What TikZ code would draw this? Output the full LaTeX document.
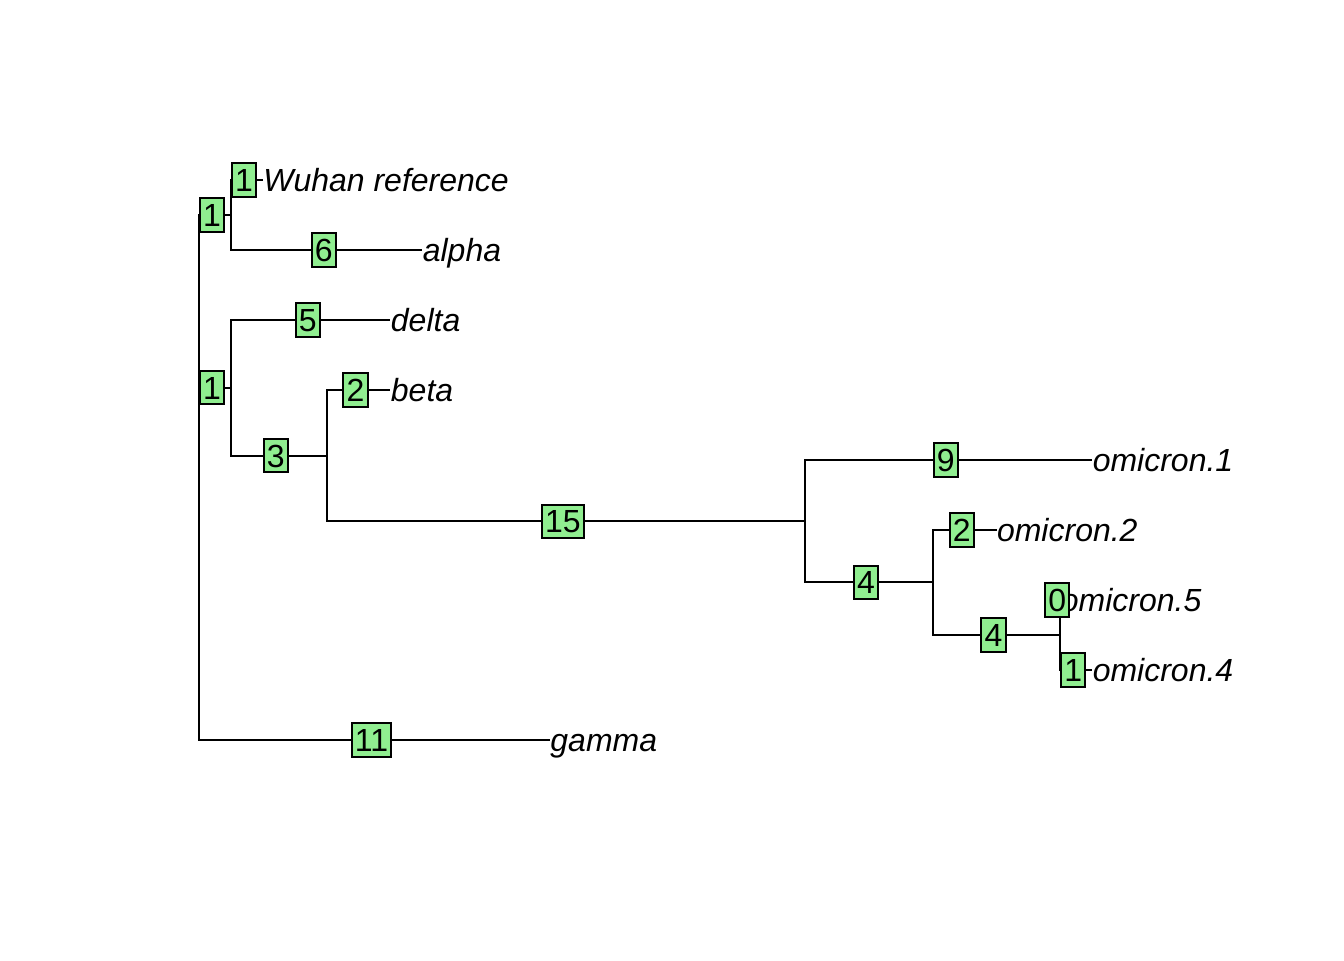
\documentclass[tikz,border=0pt]{standalone}
\usepackage{fontspec}
\setmainfont{Liberation Sans}
\definecolor{lightgreen}{HTML}{90EE90}
\tikzset{
	branch/.style={line width=0.75pt},
	lenbox/.style={draw,fill=lightgreen,line width=0.75pt,inner xsep=1.2pt,inner ysep=0pt,xshift=-1.1pt,
		minimum height=12.4pt,text height=8.6pt,text depth=0pt,font=\fontsize{12}{14}\selectfont},
	tiplabel/.style={anchor=west,inner sep=0pt,text height=8.6pt,text depth=0pt,
		font=\fontsize{12}{14}\selectfont\itshape}
}
\begin{document}
\begin{tikzpicture}[x=11.9625pt,y=-26.25pt]
	\useasboundingbox (-6.238,-1.571) rectangle (35.893,12.143);
	% internal nodes: x = distance from root, y = tip rank
	\coordinate (root) at (0,5.25);
	\coordinate (wa) at (1,1.5);
	\coordinate (dbo) at (1,3.96875);
	\coordinate (bo) at (4,4.9375);
	\coordinate (omi) at (19,5.875);
	\coordinate (omi245) at (23,6.75);
	\coordinate (omi45) at (27,7.5);
	% tips
	\coordinate (wuhan) at (2,1);
	\coordinate (alpha) at (7,2);
	\coordinate (delta) at (6,3);
	\coordinate (beta) at (6,4);
	\coordinate (omi1) at (28,5);
	\coordinate (omi2) at (25,6);
	\coordinate (omi5) at (27,7);
	\coordinate (omi4) at (28,8);
	\coordinate (gamma) at (11,9);
	\node[tiplabel] (wuhanlbl) at (wuhan) {Wuhan reference};
	\node[tiplabel] (alphalbl) at (alpha) {alpha};
	\node[tiplabel] (deltalbl) at (delta) {delta};
	\node[tiplabel] (betalbl) at (beta) {beta};
	\node[tiplabel] (omi1lbl) at (omi1) {omicron.1};
	\node[tiplabel] (omi2lbl) at (omi2) {omicron.2};
	\node[tiplabel] (omi5lbl) at (omi5) {omicron.5};
	\node[tiplabel] (omi4lbl) at (omi4) {omicron.4};
	\node[tiplabel] (gammalbl) at (gamma) {gamma};
	% branches with their lengths
	\draw[branch] (root) |- node[lenbox,pos=0.75] (lwa) {1} (wa);
	\draw[branch] (root) |- node[lenbox,pos=0.75] (ldbo) {1} (dbo);
	\draw[branch] (root) |- node[lenbox,pos=0.75] (lgamma) {11} (gamma);
	\draw[branch] (wa) |- node[lenbox,pos=0.75] (lwuhan) {1} (wuhan);
	\draw[branch] (wa) |- node[lenbox,pos=0.75] (lalpha) {6} (alpha);
	\draw[branch] (dbo) |- node[lenbox,pos=0.75] (ldelta) {5} (delta);
	\draw[branch] (dbo) |- node[lenbox,pos=0.75] (lbo) {3} (bo);
	\draw[branch] (bo) |- node[lenbox,pos=0.75] (lbeta) {2} (beta);
	\draw[branch] (bo) |- node[lenbox,pos=0.75] (lomi) {15} (omi);
	\draw[branch] (omi) |- node[lenbox,pos=0.75] (lomi1) {9} (omi1);
	\draw[branch] (omi) |- node[lenbox,pos=0.75] (lomi245) {4} (omi245);
	\draw[branch] (omi245) |- node[lenbox,pos=0.75] (lomi2) {2} (omi2);
	\draw[branch] (omi245) |- node[lenbox,pos=0.75] (lomi45) {4} (omi45);
	\draw[branch] (omi45) |- node[lenbox,pos=0.75] (lomi5) {0} (omi5);
	\draw[branch] (omi45) |- node[lenbox,pos=0.75] (lomi4) {1} (omi4);
\end{tikzpicture}
\end{document}
